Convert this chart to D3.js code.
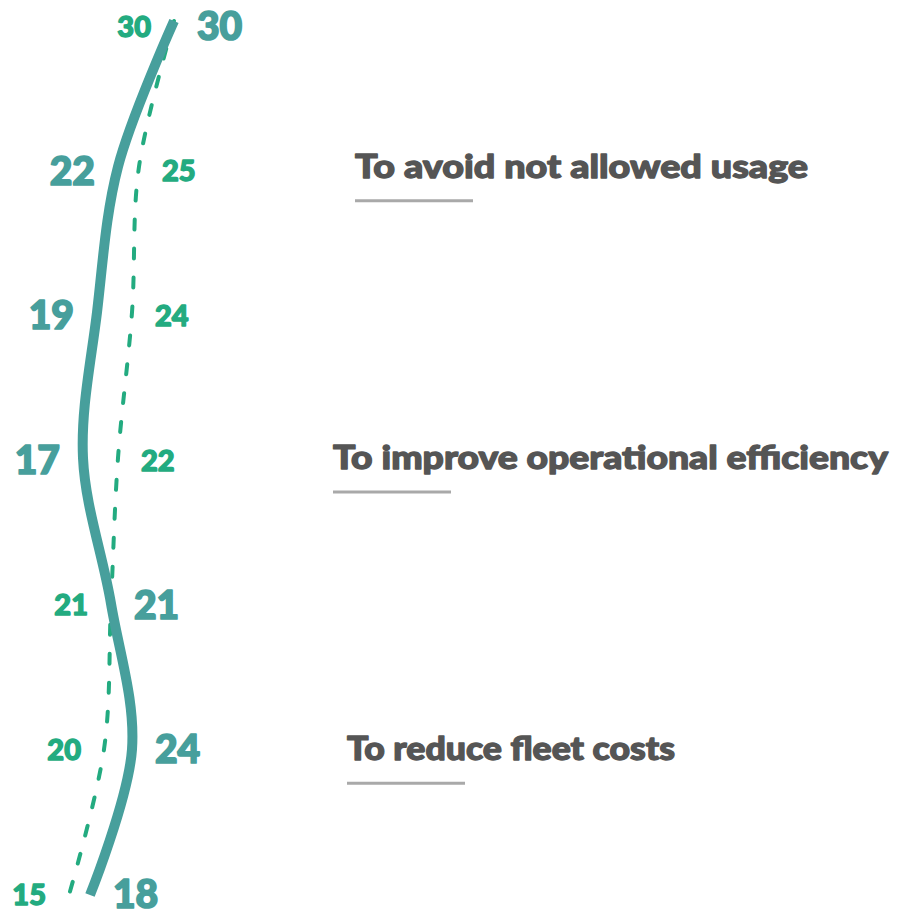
<!DOCTYPE html>
<html>
<head>
<meta charset="utf-8">
<script src="https://cdn.jsdelivr.net/npm/d3@7"></script>
<style>
  html, body { margin: 0; padding: 0; background: #ffffff; }
  svg { display: block; }
</style>
</head>
<body>
<div id="chart"></div>
<script>
// Two score profiles, top to bottom
const solidValues  = [30, 22, 19, 17, 21, 24, 18];
const dashedValues = [30, 25, 24, 22, 21, 20, 15];

// Reasons listed beside the profiles, and the row each one sits on
const reasons    = ["To avoid not allowed usage", "To improve operational efficiency", "To reduce fleet costs"];
const reasonRows = [1, 3, 5];

const W = 897, H = 916;
const solidColor = "#479f9c";
const dashedColor = "#23ab80";

const svg = d3.select("#chart").append("svg")
  .attr("width", W).attr("height", H);

const rows = d3.range(solidValues.length);
const y = d3.scalePoint().domain(rows).range([21, 895]);
// value labels sit a touch inside the line ends
const yLabel = d3.scalePoint().domain(rows).range([25, 893]);
const x = d3.scaleLinear().domain([15, 30]).range([69, 174]);

const line = d3.line()
  .x(d => x(d.v))
  .y(d => y(d.i))
  .curve(d3.curveCatmullRom.alpha(0.5));

const solidPts = solidValues.map((v, i) => ({ v, i }));
const dashedPts = dashedValues.map((v, i) => ({ v, i }));

svg.append("path")
  .datum(dashedPts)
  .attr("d", line)
  .attr("fill", "none")
  .attr("stroke", dashedColor)
  .attr("stroke-width", 4)
  .attr("stroke-linecap", "round")
  .attr("stroke-dasharray", "10,19");

svg.append("path")
  .datum(solidPts)
  .attr("d", line)
  .attr("fill", "none")
  .attr("stroke", solidColor)
  .attr("stroke-width", 10)
  .attr("stroke-linecap", "butt");

const font = "Lato, 'Open Sans', sans-serif";
const gap = 23;

// heavy lettering: fill plus a thin outline in the same colour
function heavy(sel, color, w) {
  return sel.attr("font-family", font)
    .attr("font-weight", 900)
    .attr("fill", color)
    .attr("stroke", color)
    .attr("stroke-width", w)
    .attr("stroke-linejoin", "round");
}

// Solid labels go on the side away from the dashed profile, dashed labels opposite
rows.forEach(i => {
  const sv = solidValues[i], dv = dashedValues[i];
  const solidLeft = sv < dv;
  svg.append("text")
    .attr("x", solidLeft ? x(sv) - gap : x(sv) + gap)
    .attr("y", yLabel(i))
    .attr("text-anchor", solidLeft ? "end" : "start")
    .attr("dominant-baseline", "central")
    .attr("font-size", 39)
    .call(heavy, solidColor, 1.7)
    .text(sv);
  svg.append("text")
    .attr("x", solidLeft ? x(dv) + gap : x(dv) - gap)
    .attr("y", yLabel(i))
    .attr("text-anchor", solidLeft ? "start" : "end")
    .attr("dominant-baseline", "central")
    .attr("font-size", 29)
    .call(heavy, dashedColor, 1.4)
    .text(dv);
});

const reasonX = [355, 333, 347];
const reasonW = [453, 555, 328];
reasons.forEach((r, k) => {
  const ry = y(reasonRows[k]);
  svg.append("text")
    .attr("x", reasonX[k])
    .attr("y", ry + 11)
    .attr("font-size", 33)
    .attr("textLength", reasonW[k])
    .attr("lengthAdjust", "spacingAndGlyphs")
    .call(heavy, "#555555", 1.3)
    .text(r);
  svg.append("line")
    .attr("x1", reasonX[k]).attr("x2", reasonX[k] + 118)
    .attr("y1", ry + 34).attr("y2", ry + 34)
    .attr("stroke", "#a9a9a9")
    .attr("stroke-width", 3);
});
</script>
</body>
</html>
